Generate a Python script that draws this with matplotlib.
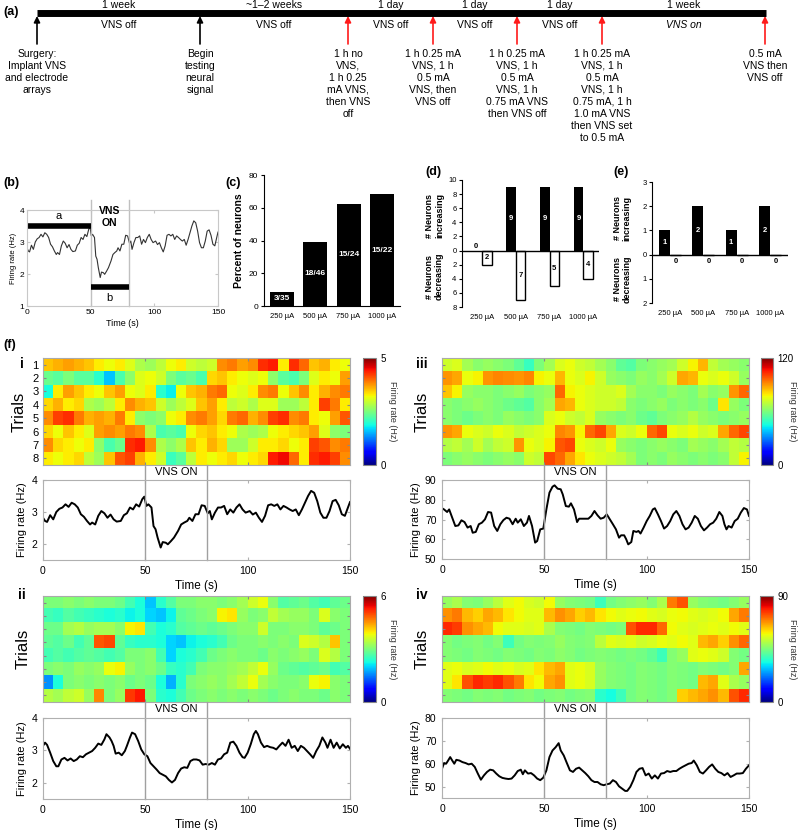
import numpy as np
import matplotlib
matplotlib.use("Agg")
import matplotlib.pyplot as plt

plt.rcParams['font.family'] = ['Liberation Sans', 'DejaVu Sans']

# ---- data ----
# (a) timeline
event_x = [37, 200, 348, 433, 517, 602, 765]
event_color = ['black', 'black', 'red', 'red', 'red', 'red', 'red']
event_text = [
    "Surgery:\nImplant VNS\nand electrode\narrays",
    "Begin\ntesting\nneural\nsignal",
    "1 h no\nVNS,\n1 h 0.25\nmA VNS,\nthen VNS\noff",
    "1 h 0.25 mA\nVNS, 1 h\n0.5 mA\nVNS, then\nVNS off",
    "1 h 0.25 mA\nVNS, 1 h\n0.5 mA\nVNS, 1 h\n0.75 mA VNS\nthen VNS off",
    "1 h 0.25 mA\nVNS, 1 h\n0.5 mA\nVNS, 1 h\n0.75 mA, 1 h\n1.0 mA VNS\nthen VNS set\nto 0.5 mA",
    "0.5 mA\nVNS then\nVNS off",
]
interval_top = ["1 week", "~1\u20132 weeks", "1 day", "1 day", "1 day", "1 week"]
interval_bottom = ["VNS off", "VNS off", "VNS off", "VNS off", "VNS off", "VNS on"]

# (c)-(e)
currents = ["250 \u00b5A", "500 \u00b5A", "750 \u00b5A", "1000 \u00b5A"]
resp_frac = ["3/35", "18/46", "15/24", "15/22"]
resp_pct = [3 / 35 * 100, 18 / 46 * 100, 15 / 24 * 100, 15 / 22 * 100]
d_increasing = [0, 9, 9, 9]
d_decreasing = [2, 7, 5, 4]
e_increasing = [1, 2, 1, 2]
e_decreasing = [0, 0, 0, 0]

# (f) mean firing-rate traces
t_i = [0, 1, 2, 3.5, 5, 6.5, 8, 9.5, 11, 12.5, 14, 15.5, 17, 18.5, 20, 21.5, 23, 24, 25.5, 27,
       28.5, 30, 31.5, 33, 34.5, 36, 38, 39.5, 41, 42.5, 44, 45.5, 47, 48.5, 49.5, 50.5, 51.5, 53,
       54, 55, 56, 57.5, 58.5, 60, 61, 62.5, 64, 66, 67.5, 69, 70.5, 71.5, 73, 74.5, 76, 77.5, 79,
       80.5, 81.5, 82.5, 84, 85.5, 87, 88.5, 90, 91.5, 93, 94.5, 96, 97.5, 99, 101, 102.5, 104,
       105.5, 107, 108.5, 110, 111.5, 113, 114.5, 116, 117.5, 119, 120.5, 122, 123.5, 125, 126.5,
       128, 129.5, 131, 132.5, 134, 135.5, 137, 138.5, 140, 141.5, 143, 144.5, 146, 147.5, 149, 150]
fr_i = [2.82, 2.72, 2.69, 2.9, 2.77, 3.0, 3.1, 3.14, 3.24, 3.16, 3.29, 3.24, 3.14, 2.93, 2.85, 2.72,
        2.61, 2.67, 2.61, 2.88, 3.03, 2.96, 2.82, 2.92, 2.77, 2.70, 2.72, 2.9, 2.96, 3.14, 3.08, 3.24,
        3.17, 3.40, 3.48, 3.19, 3.24, 3.14, 2.56, 2.46, 2.2, 1.89, 2.06, 2.04, 1.99, 2.09, 2.2, 2.41,
        2.61, 2.67, 2.72, 2.82, 2.72, 2.93, 2.93, 3.21, 3.19, 2.96, 3.03, 2.77, 2.98, 3.14, 3.14, 3.19,
        2.93, 3.08, 2.98, 3.14, 3.24, 3.08, 2.98, 3.03, 2.92, 2.98, 2.82, 2.69, 2.88, 3.21, 3.24, 3.19,
        3.24, 3.08, 3.19, 3.14, 3.08, 3.03, 3.08, 2.9, 3.08, 3.29, 3.5, 3.66, 3.6, 3.34, 2.98, 2.82,
        2.82, 3.03, 3.34, 3.38, 3.21, 2.93, 2.88, 3.14, 3.31]

t_ii = [0, 1, 2, 3.5, 5, 6.5, 7.5, 9, 10.5, 12, 13.5, 15, 16.5, 18, 19.5, 21, 22.5, 24, 25.5, 27,
        28.5, 30, 31, 32.5, 33.5, 34.5, 35.5, 37, 38.5, 40, 41, 42.5, 43.5, 45, 46.5, 48, 49.5, 51,
        52.5, 54, 55.5, 57, 58.5, 60, 61.5, 63, 64.5, 66, 67.5, 69, 70.5, 72, 73.5, 75, 76.5, 78,
        79.5, 81, 82.5, 84, 85.5, 87, 88.5, 90, 91.5, 93, 94.5, 96, 97.5, 98.5, 100, 101.5, 103, 104,
        105, 106.5, 108, 109.5, 111, 112.5, 114, 115.5, 117, 118.5, 120, 121.5, 123, 124.5, 126,
        127.5, 129, 130.5, 132, 133.5, 135, 136.5, 138, 139, 140.5, 142, 143.5, 145, 146.5, 148, 149, 150]
fr_ii = [3.14, 3.24, 3.17, 2.93, 2.67, 2.51, 2.51, 2.72, 2.77, 2.69, 2.75, 2.67, 2.72, 2.82, 2.79,
         2.88, 2.93, 2.98, 3.08, 3.21, 3.17, 3.34, 3.5, 3.4, 3.29, 3.14, 2.9, 2.93, 2.85, 2.98, 3.14,
         3.4, 3.55, 3.5, 3.29, 3.03, 2.88, 2.82, 2.61, 2.51, 2.41, 2.3, 2.25, 2.2, 2.09, 2.01, 2.09,
         2.3, 2.44, 2.48, 2.46, 2.67, 2.72, 2.72, 2.69, 2.56, 2.58, 2.56, 2.61, 2.56, 2.72, 2.75, 2.88,
         2.93, 3.24, 3.27, 3.14, 2.93, 2.79, 2.77, 2.93, 3.19, 3.5, 3.6, 3.5, 3.24, 3.1, 3.14, 3.1,
         3.08, 3.03, 3.14, 3.24, 3.14, 3.33, 3.08, 3.14, 2.98, 3.14, 3.08, 2.98, 2.88, 2.77, 2.98, 3.14,
         3.4, 3.24, 3.08, 3.33, 3.08, 3.24, 3.06, 3.19, 3.08, 3.14, 3.05]

t_iii = [0, 1, 2.5, 3.5, 5, 6.5, 8, 9.5, 11, 12.5, 14, 15, 16.5, 18, 19.5, 21, 22.5, 24, 25.5, 27,
         28.5, 30, 31.5, 33, 34.5, 36, 37, 38.5, 40, 41.5, 42.5, 44, 45.5, 46.5, 48, 49.5, 51, 52.5,
         54, 55, 56.5, 58, 59, 60.5, 62, 63, 64.5, 66, 67, 68.5, 70, 71.5, 73, 74.5, 76, 77.5, 79,
         80.5, 82, 83.5, 85, 86.5, 87.5, 89, 90, 91, 92.5, 93.5, 95, 96, 97, 98.5, 100, 101.5, 103,
         104, 105.5, 107, 108.5, 110, 111.5, 113, 114.5, 116, 117.5, 119, 120.5, 122, 123.5, 125,
         126.5, 128, 129.5, 131, 132.5, 134, 135.5, 137, 138, 139, 140, 141.5, 143, 144.5, 146,
         147.5, 149, 150]
fr_iii = [75.7, 75.1, 73.8, 75.1, 70.9, 66.7, 67.0, 69.6, 68.7, 65.9, 66.7, 63.3, 63.7, 67.6, 68.4,
          70.1, 73.8, 73.5, 66.7, 64.2, 67.6, 69.7, 70.9, 70.4, 67.6, 70.4, 68.4, 70.1, 66.7, 68.4,
          71.8, 66.7, 58.3, 59.1, 65.0, 65.4, 75.1, 83.6, 86.6, 87.3, 85.6, 85.3, 82.7, 76.8, 76.5,
          78.2, 75.1, 68.7, 70.4, 70.4, 70.4, 70.4, 71.8, 74.3, 72.1, 70.4, 70.9, 72.6, 70.1, 67.6,
          65.0, 60.8, 62.0, 62.0, 60.0, 57.4, 58.6, 64.2, 63.7, 64.2, 62.9, 65.9, 69.2, 71.8, 75.1,
          75.7, 72.6, 69.2, 65.4, 66.7, 69.2, 72.6, 74.3, 71.8, 67.6, 65.0, 65.9, 68.4, 71.8, 70.4,
          66.7, 64.5, 65.9, 67.6, 68.4, 70.4, 73.8, 71.8, 67.6, 65.0, 66.7, 65.9, 69.2, 70.4, 73.5,
          75.8, 75.1, 71.8]

t_iv = [0, 1, 2, 3, 4, 5, 6, 7, 8.5, 10, 11.5, 13, 14.5, 16, 17.5, 19, 20.5, 22, 23.5, 25, 26.5,
        28, 29.5, 31, 32.5, 34, 35.5, 37, 38.5, 39.5, 40.5, 42, 43.5, 45, 46.5, 48, 49.5, 51, 52.5,
        54, 55.5, 57, 58, 59.5, 61, 62.5, 64, 65.5, 67, 68.5, 70, 71.5, 73, 74.5, 76, 77.5, 79,
        80.5, 82, 83.5, 85, 86.5, 88, 89.5, 90.5, 92, 93.5, 95, 96.5, 98, 99.5, 101, 102.5, 104,
        105.5, 107, 108.5, 110, 111.5, 113, 114.5, 116, 117.5, 119, 120.5, 122, 123, 124.5, 126,
        127.5, 129, 130.5, 132, 133.5, 135, 136.5, 138, 139.5, 141, 142.5, 144, 145.5, 147, 148.5, 150]
fr_iv = [57.8, 60.3, 60.0, 61.4, 62.9, 61.4, 60.0, 61.7, 61.4, 60.7, 60.3, 59.7, 60.0, 58.6, 55.7,
         53.0, 54.9, 56.4, 57.4, 57.1, 55.7, 54.5, 53.8, 53.5, 53.3, 53.5, 54.9, 56.8, 57.4, 55.4,
         57.1, 55.7, 55.9, 54.9, 53.5, 52.8, 53.9, 57.1, 62.9, 65.8, 67.2, 69.0, 65.8, 63.6, 60.3,
         57.1, 56.4, 57.8, 58.3, 57.1, 55.9, 54.5, 52.8, 52.0, 52.0, 51.0, 50.6, 51.0, 51.3, 52.8,
         52.0, 50.1, 49.1, 48.1, 48.1, 49.9, 52.8, 56.4, 57.8, 58.1, 54.9, 55.7, 53.5, 54.9, 53.5,
         55.7, 55.9, 56.8, 56.4, 56.8, 56.8, 57.8, 58.6, 59.3, 60.0, 60.3, 61.4, 59.3, 56.4, 55.7,
         57.1, 58.6, 59.7, 57.8, 56.4, 55.9, 54.9, 55.9, 54.2, 54.9, 55.7, 55.7, 55.9, 57.8, 59.3]

# (f) trial-by-trial firing rate, 8 trials x 30 bins of 5 s
heat_i = [
    [3.5, 3.6, 3.7, 3.6, 3.5, 3.3, 3.2, 3.3, 3.1, 2.8, 2.7, 2.9, 3.2, 3.3, 3.0, 2.9, 3.0, 3.8, 3.9, 3.7, 3.8, 4.3, 4.4, 3.3, 4.3, 4.0, 3.5, 3.6, 3.3, 3.2],
    [2.4, 2.3, 2.5, 2.3, 2.3, 2.0, 1.6, 2.2, 2.6, 3.1, 3.2, 3.0, 2.5, 2.3, 2.4, 2.2, 3.4, 3.5, 3.3, 3.2, 3.1, 3.2, 2.6, 2.3, 2.2, 2.5, 3.1, 3.3, 3.2, 3.7],
    [1.9, 3.3, 3.7, 3.5, 3.3, 3.2, 3.5, 3.7, 3.2, 3.1, 3.3, 2.0, 1.8, 3.2, 3.5, 3.6, 3.9, 4.0, 3.2, 3.1, 3.3, 3.8, 3.9, 3.2, 3.5, 3.8, 3.3, 3.6, 3.8, 3.9],
    [3.4, 3.6, 3.3, 3.4, 2.8, 2.7, 2.9, 3.3, 3.8, 3.6, 3.5, 3.0, 2.7, 2.9, 3.1, 3.5, 3.7, 3.3, 2.9, 3.0, 2.8, 3.1, 3.1, 2.7, 2.7, 2.9, 3.3, 4.2, 3.9, 3.3],
    [3.8, 4.2, 4.3, 3.9, 3.6, 3.7, 3.6, 3.9, 3.3, 2.6, 2.5, 2.6, 3.2, 3.3, 3.8, 3.9, 3.7, 3.4, 3.9, 4.0, 3.6, 3.8, 4.2, 4.3, 3.8, 3.9, 3.3, 3.2, 3.7, 4.1],
    [3.4, 3.2, 3.5, 3.3, 3.1, 3.7, 3.8, 3.7, 3.9, 3.8, 2.8, 2.2, 2.3, 2.2, 3.2, 3.4, 3.5, 3.3, 3.2, 2.8, 2.7, 2.8, 3.2, 3.3, 3.4, 3.5, 3.7, 3.1, 2.6, 2.5],
    [3.8, 3.4, 3.3, 3.2, 3.3, 2.6, 2.2, 2.4, 4.3, 4.4, 3.8, 2.8, 2.6, 2.8, 3.5, 3.3, 3.6, 3.4, 2.7, 2.7, 3.0, 3.3, 3.3, 3.4, 3.2, 3.3, 4.2, 4.1, 3.8, 3.9],
    [3.3, 3.2, 3.3, 3.4, 2.9, 2.7, 3.5, 4.1, 4.2, 3.6, 3.3, 3.0, 2.1, 2.3, 2.9, 3.3, 3.2, 3.3, 3.4, 3.2, 3.3, 3.4, 4.4, 4.5, 4.0, 3.3, 4.3, 4.4, 4.2, 3.8],
]
heat_ii = [
    [3.0, 3.0, 3.1, 3.0, 3.1, 3.0, 3.0, 2.9, 2.6, 2.3, 1.9, 2.4, 2.7, 3.0, 3.0, 3.1, 3.1, 3.0, 3.1, 3.3, 3.6, 3.8, 3.1, 2.7, 2.8, 2.9, 2.7, 2.6, 2.8, 2.9],
    [2.6, 2.5, 2.7, 2.6, 2.5, 2.4, 2.3, 2.4, 2.2, 2.3, 2.0, 1.9, 2.2, 2.8, 2.9, 3.0, 3.1, 3.9, 4.0, 3.2, 3.0, 3.1, 3.5, 3.3, 3.2, 3.2, 3.0, 3.7, 3.1, 3.0],
    [2.9, 2.9, 3.3, 3.4, 3.2, 3.3, 3.3, 3.1, 3.9, 4.0, 2.6, 2.3, 2.4, 2.7, 2.8, 2.9, 2.8, 2.9, 3.0, 3.1, 3.1, 3.6, 3.0, 3.0, 3.1, 3.1, 3.0, 2.8, 2.9, 3.0],
    [2.8, 2.7, 2.9, 2.6, 2.8, 4.9, 5.0, 2.8, 2.5, 2.4, 2.4, 2.3, 2.0, 1.9, 2.2, 2.3, 2.4, 2.6, 2.9, 3.0, 3.0, 3.1, 3.0, 3.1, 3.0, 3.7, 3.6, 3.4, 4.2, 3.0],
    [2.6, 2.7, 2.6, 2.7, 2.8, 2.7, 2.6, 2.7, 3.0, 3.0, 3.1, 2.6, 2.0, 2.3, 2.4, 2.6, 2.9, 3.0, 3.1, 3.0, 3.0, 2.9, 3.1, 3.0, 3.1, 3.2, 3.0, 3.7, 3.4, 3.0],
    [3.0, 3.1, 3.0, 3.2, 3.1, 3.2, 3.8, 3.9, 3.2, 3.0, 3.1, 2.9, 2.5, 2.4, 2.6, 3.0, 3.1, 3.1, 3.2, 3.3, 3.5, 3.8, 3.2, 2.9, 2.8, 2.7, 2.8, 2.9, 2.6, 2.7],
    [1.6, 2.3, 3.0, 3.1, 3.0, 3.1, 3.0, 3.1, 2.9, 3.0, 2.9, 2.3, 1.8, 2.4, 3.0, 3.1, 3.2, 3.1, 3.3, 3.5, 3.8, 3.3, 3.1, 3.0, 3.0, 3.1, 3.8, 3.9, 3.1, 3.0],
    [3.4, 3.3, 3.5, 3.6, 3.2, 4.6, 3.0, 3.2, 5.1, 5.3, 3.0, 2.4, 2.3, 2.6, 2.9, 3.0, 3.1, 3.0, 3.1, 3.0, 3.1, 3.0, 2.9, 3.0, 3.1, 3.0, 3.0, 2.9, 3.1, 3.0],
]
heat_iii = [
    [72, 74, 66, 62, 64, 62, 60, 56, 50, 60, 66, 74, 76, 72, 70, 66, 62, 56, 54, 60, 62, 64, 66, 72, 78, 86, 70, 66, 64, 62],
    [90, 88, 76, 78, 90, 92, 91, 90, 92, 78, 76, 86, 76, 74, 78, 72, 64, 62, 60, 64, 62, 66, 72, 88, 86, 76, 74, 76, 72, 64],
    [84, 78, 64, 62, 62, 60, 62, 64, 60, 62, 64, 96, 78, 76, 74, 72, 72, 74, 66, 62, 62, 60, 64, 62, 60, 66, 62, 64, 90, 96],
    [62, 60, 62, 64, 62, 60, 58, 56, 54, 62, 66, 88, 86, 76, 74, 72, 72, 70, 62, 60, 62, 64, 60, 62, 60, 62, 58, 80, 64, 60],
    [62, 60, 58, 60, 62, 60, 64, 62, 60, 62, 74, 76, 72, 70, 74, 64, 62, 60, 62, 58, 56, 60, 62, 64, 68, 64, 62, 60, 62, 64],
    [90, 88, 76, 74, 72, 76, 74, 70, 72, 74, 76, 92, 90, 78, 96, 100, 88, 74, 72, 76, 96, 100, 76, 74, 76, 72, 74, 88, 96, 100],
    [68, 70, 66, 72, 66, 70, 72, 90, 76, 74, 78, 98, 100, 76, 74, 72, 76, 64, 62, 60, 62, 64, 62, 60, 66, 64, 62, 66, 70, 68],
    [60, 62, 64, 62, 60, 62, 64, 62, 72, 70, 100, 96, 88, 80, 76, 74, 72, 70, 66, 60, 62, 60, 64, 62, 60, 62, 60, 62, 70, 78],
]
heat_iv = [
    [48, 50, 46, 45, 48, 52, 56, 58, 55, 54, 58, 48, 46, 45, 44, 38, 44, 46, 47, 48, 46, 50, 70, 74, 48, 46, 45, 44, 46, 48],
    [68, 70, 64, 62, 66, 64, 60, 58, 56, 56, 64, 68, 66, 62, 64, 60, 58, 56, 57, 58, 56, 55, 57, 58, 56, 55, 56, 58, 66, 70],
    [78, 76, 68, 66, 64, 58, 56, 56, 55, 56, 50, 46, 45, 44, 46, 45, 44, 45, 74, 78, 78, 72, 58, 56, 55, 56, 57, 56, 58, 56],
    [46, 44, 45, 46, 44, 46, 38, 44, 46, 45, 46, 48, 46, 45, 46, 52, 56, 55, 56, 54, 55, 57, 56, 58, 56, 64, 66, 62, 68, 72],
    [46, 45, 44, 46, 45, 44, 46, 45, 44, 46, 45, 47, 46, 44, 45, 46, 45, 44, 45, 44, 42, 38, 46, 48, 56, 57, 56, 54, 46, 44],
    [56, 57, 55, 56, 58, 56, 57, 55, 56, 60, 64, 66, 56, 57, 55, 48, 46, 45, 44, 46, 45, 44, 46, 45, 44, 46, 45, 44, 46, 66],
    [56, 60, 74, 78, 76, 78, 74, 70, 60, 58, 66, 68, 56, 57, 55, 48, 46, 45, 44, 46, 45, 44, 46, 45, 44, 64, 66, 56, 50, 48],
    [46, 45, 44, 46, 45, 46, 44, 45, 46, 44, 45, 46, 44, 45, 46, 36, 34, 38, 44, 46, 45, 44, 46, 62, 64, 66, 68, 64, 74, 78],
]

# ---- figure ----
W, H = 800, 830
fig = plt.figure(figsize=(W / 100, H / 100), dpi=100)


def px_axes(x0, y0, x1, y1):
    return fig.add_axes([x0 / W, 1 - y1 / H, (x1 - x0) / W, (y1 - y0) / H])


def panel_label(x, y, s, size=9):
    fig.text(x / W, 1 - y / H, s, fontsize=size, fontweight='bold', va='center', ha='left')


# (a) timeline
ax = px_axes(0, 0, 800, 170)
ax.set_xlim(0, 800)
ax.set_ylim(170, 0)
ax.axis('off')
ax.plot([event_x[0], event_x[-1] + 1], [13, 13], color='k', lw=5, solid_capstyle='butt')
for x, c, s in zip(event_x, event_color, event_text):
    col = '#ff1a1a' if c == 'red' else 'k'
    ax.annotate('', xy=(x, 16), xytext=(x, 44),
                arrowprops=dict(arrowstyle='-|>', color=col, lw=1.2, mutation_scale=9,
                                shrinkA=0, shrinkB=0))
    ax.text(x, 49, s, ha='center', va='top', fontsize=7.5, linespacing=1.25,
            multialignment='center')
for i in range(len(interval_top)):
    xm = (event_x[i] + event_x[i + 1]) / 2
    ax.text(xm, 5, interval_top[i], ha='center', va='center', fontsize=7.5)
    ax.text(xm, 25, interval_bottom[i], ha='center', va='center', fontsize=7.5,
            style='italic' if interval_bottom[i] == 'VNS on' else 'normal')
panel_label(3, 12, '(a)')

# (b) example neuron
panel_label(3, 183, '(b)')
ax = px_axes(27, 210, 218, 306)
ax.plot(t_i, fr_i, color='#333333', lw=0.8)
ax.set_xlim(0, 150)
ax.set_ylim(1, 4)
ax.set_xticks([0, 50, 100, 150])
ax.set_yticks([1, 2, 3, 4])
for sp in ax.spines.values():
    sp.set_color('#c8c8c8')
ax.tick_params(direction='in', length=2, labelsize=6, color='#c8c8c8', top=True, right=True, pad=2)
for xv in (50, 80):
    ax.axvline(xv, ymin=0, ymax=1.1, color='#c0c0c0', lw=1, clip_on=False)
ax.plot([0, 50], [3.5, 3.5], color='k', lw=4, solid_capstyle='butt')
ax.plot([50, 80], [1.6, 1.6], color='k', lw=4, solid_capstyle='butt')
ax.text(25, 3.8, 'a', ha='center', va='center', fontsize=8)
ax.text(65, 1.25, 'b', ha='center', va='center', fontsize=8)
ax.text(65, 3.78, 'VNS\nON', ha='center', va='center', fontsize=7.5, fontweight='bold',
        linespacing=1.2)
ax.set_xlabel('Time (s)', fontsize=6.5, labelpad=2)
ax.set_ylabel('Firing rate (Hz)', fontsize=5.5, labelpad=2)

# (c) percent responsive
panel_label(225, 183, '(c)')
ax = px_axes(264, 175, 400, 306)
xc = np.arange(len(currents))
ax.bar(xc, resp_pct, 0.72, color='k')
for x, p, f in zip(xc, resp_pct, resp_frac):
    ax.text(x, p / 2, f, color='white', ha='center', va='center',
            fontsize=6, fontweight='bold')
ax.set_xlim(-0.55, 3.55)
ax.set_ylim(0, 80)
ax.set_yticks([0, 20, 40, 60, 80])
ax.set_xticks(xc)
ax.set_xticklabels(currents)
ax.spines['top'].set_visible(False)
ax.spines['right'].set_visible(False)
ax.tick_params(axis='x', length=0, labelsize=5.5, pad=5)
ax.tick_params(axis='y', length=2, labelsize=6, pad=2)
ax.set_ylabel('Percent of neurons', fontsize=7.5, fontweight='bold', labelpad=4)

# (d) neurons increasing / decreasing, grouped
panel_label(425, 172, '(d)')
ax = px_axes(462, 180, 599, 307)
xd = np.arange(len(currents))
w = 0.28
ax.bar(xd - w / 2, d_increasing, w, color='k')
ax.bar(xd + w / 2, [-v for v in d_decreasing], w, color='white', edgecolor='k', lw=1)
for x, v in zip(xd, d_increasing):
    if v > 0:
        ax.text(x - w / 2, v / 2, str(v), color='white', ha='center', va='center', fontsize=5.5,
                fontweight='bold')
    else:
        ax.text(x - w / 2 - 0.05, 0.6, str(v), color='k', ha='center', va='center', fontsize=5.5,
                fontweight='bold')
for x, v in zip(xd, d_decreasing):
    ax.text(x + w / 2, -v / 2, str(v), color='k', ha='center', va='center', fontsize=5.5,
            fontweight='bold')
ax.axhline(0, color='k', lw=1)
ax.set_xlim(-0.6, 3.47)
ax.set_ylim(-8, 10)
ax.set_yticks(range(-8, 11, 2))
ax.set_yticklabels([str(abs(v)) for v in range(-8, 11, 2)])
ax.set_xticks(xd)
ax.set_xticklabels(currents)
for s in ('top', 'right', 'bottom'):
    ax.spines[s].set_visible(False)
ax.tick_params(axis='x', length=0, labelsize=5.5, pad=5)
ax.tick_params(axis='y', length=2, labelsize=5.5, pad=2)
ax.text(-0.2, 0.72, '# Neurons\nincreasing', transform=ax.transAxes, rotation=90, ha='center',
        va='center', fontsize=6.5, fontweight='bold', linespacing=1.1)
ax.text(-0.2, 0.24, '# Neurons\ndecreasing', transform=ax.transAxes, rotation=90, ha='center',
        va='center', fontsize=6.5, fontweight='bold', linespacing=1.1)

# (e) neurons increasing / decreasing, second group
panel_label(613, 172, '(e)')
ax = px_axes(652, 182, 788, 303)
xe = np.arange(len(currents))
w = 0.33
ax.bar(xe - w / 2, e_increasing, w, color='k')
ax.bar(xe + w / 2, [-v for v in e_decreasing], w, color='white', edgecolor='k', lw=1)
for x, v in zip(xe, e_increasing):
    ax.text(x - w / 2, v / 2, str(v), color='white', ha='center', va='center', fontsize=5.5,
            fontweight='bold')
for x, v in zip(xe, e_decreasing):
    ax.text(x + w / 2, -0.3, str(v), color='k', ha='center', va='center', fontsize=5.5,
            fontweight='bold')
ax.axhline(0, color='k', lw=1)
ax.set_xlim(-0.54, 3.54)
ax.set_ylim(-2, 3)
ax.set_yticks(range(-2, 4))
ax.set_yticklabels([str(abs(v)) for v in range(-2, 4)])
ax.set_xticks(xe)
ax.set_xticklabels(currents)
for s in ('top', 'right', 'bottom'):
    ax.spines[s].set_visible(False)
ax.tick_params(axis='x', length=0, labelsize=5.5, pad=5)
ax.tick_params(axis='y', length=2, labelsize=5.5, pad=2)
ax.text(-0.22, 0.7, '# Neurons\nincreasing', transform=ax.transAxes, rotation=90, ha='center',
        va='center', fontsize=6.5, fontweight='bold', linespacing=1.1)
ax.text(-0.22, 0.2, '# Neurons\ndecreasing', transform=ax.transAxes, rotation=90, ha='center',
        va='center', fontsize=6.5, fontweight='bold', linespacing=1.1)

# (f) heatmaps + traces
panel_label(3, 345, '(f)')
subpanels = [
    # name, heat, vmax, trace t, trace v, ylim, yticks, heat box, cbar box, trace box,
    # label pos, colorbar-label x (px)
    ('i', heat_i, 5, t_i, fr_i, (1.5, 4), [2, 3, 4],
     (43, 358, 350, 465), (363, 358, 376, 465), (43, 480, 350, 560), (20, 364), 392),
    ('ii', heat_ii, 6, t_ii, fr_ii, (1.5, 4), [2, 3, 4],
     (43, 596, 350, 702), (363, 596, 376, 702), (43, 718, 350, 799), (18, 595), 392),
    ('iii', heat_iii, 120, t_iii, fr_iii, (50, 90), [50, 60, 70, 80, 90],
     (442, 358, 749, 465), (761, 358, 773, 465), (442, 480, 749, 559), (416, 364), 793),
    ('iv', heat_iv, 90, t_iv, fr_iv, (45, 80), [50, 60, 70, 80],
     (442, 596, 749, 702), (760, 596, 773, 702), (442, 718, 749, 798), (416, 595), 793),
]
for name, heat, vmax, tt, vv, ylim, yt, hb, cb, tb, lp, clx in subpanels:
    panel_label(lp[0], lp[1], name, size=10)
    hax = px_axes(*hb)
    im = hax.imshow(np.array(heat), cmap='jet', vmin=0, vmax=vmax, aspect='auto',
                    interpolation='nearest', extent=[0, 150, 8.5, 0.5])
    hax.set_xticks([50, 100])
    hax.set_xticklabels([])
    hax.set_yticks(range(1, 9))
    if name == 'i':
        hax.set_yticklabels([str(k) for k in range(1, 9)], fontsize=8)
    else:
        hax.set_yticklabels([])
    hax.tick_params(direction='in', length=2, color='#888888', top=True, right=True, pad=3)
    for sp in hax.spines.values():
        sp.set_color('#aaaaaa')
    hax.set_ylabel('Trials', fontsize=12, labelpad=4 if name == 'i' else 6)

    cax = px_axes(*cb)
    cbar = fig.colorbar(im, cax=cax, ticks=[0, vmax])
    cbar.ax.tick_params(labelsize=7, length=0, pad=3)
    cbar.outline.set_edgecolor('#888888')
    fig.text(clx / W, 1 - (cb[1] + cb[3]) / 2 / H, 'Firing rate (Hz)', rotation=270,
             fontsize=6.5, color='#333333', ha='center', va='center')

    lax = px_axes(*tb)
    lax.plot(tt, vv, color='k', lw=1.4)
    lax.set_xlim(0, 150)
    lax.set_ylim(*ylim)
    lax.set_xticks([0, 50, 100, 150])
    lax.set_yticks(yt)
    for sp in lax.spines.values():
        sp.set_color('#b0b0b0')
    lax.tick_params(direction='in', length=2, color='#b0b0b0', top=True, right=True,
                    labelsize=7.5, pad=4)
    gap = (tb[1] - hb[3]) / (tb[3] - tb[1])
    for xv in (50, 80):
        lax.axvline(xv, ymin=0, ymax=1 + gap, color='#a0a0a0', lw=1, clip_on=False)
    lax.text(65, 1 + gap * 0.55, 'VNS ON', transform=lax.get_xaxis_transform(), ha='center',
             va='center', fontsize=8)
    lax.set_xlabel('Time (s)', fontsize=8.5, labelpad=3)
    lax.set_ylabel('Firing rate (Hz)', fontsize=8, labelpad=3)

fig.savefig('out.png', dpi=100)
